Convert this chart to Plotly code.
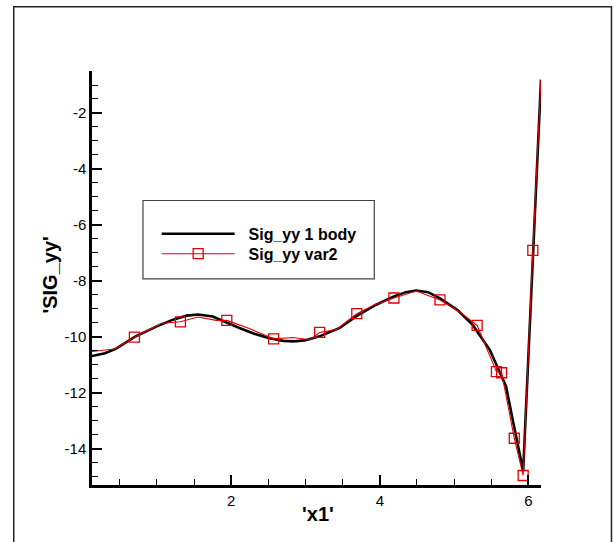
import plotly.graph_objects as go

# Sig_yy along x1, single-body reference solution
body_x = [0.125, 0.30, 0.45, 0.70, 0.99, 1.20, 1.40, 1.55, 1.75, 1.94, 2.11, 2.30,
          2.50, 2.70, 2.85, 3.00, 3.19, 3.46, 3.69, 3.95, 4.19, 4.35, 4.49, 4.65,
          4.81, 5.05, 5.25, 5.48, 5.62, 5.70, 5.80, 5.93, 6.17]
body_y = [-10.68, -10.58, -10.42, -10.00, -9.63, -9.40, -9.24, -9.20, -9.27, -9.50,
          -9.68, -9.88, -10.04, -10.14, -10.16, -10.12, -9.98, -9.68, -9.25, -8.85,
          -8.55, -8.40, -8.34, -8.40, -8.62, -9.05, -9.57, -10.46, -11.30, -11.77,
          -13.10, -14.78, -0.81]

# Sig_yy along x1, var2 solution (symbols drawn on flagged samples)
var2_x = [0.125, 0.43, 0.696, 1.06, 1.315, 1.55, 1.80, 1.94, 2.25, 2.57, 2.83, 3.06,
          3.19, 3.41, 3.69, 3.93, 4.19, 4.49, 4.81, 5.07, 5.31, 5.57, 5.64, 5.81,
          5.93, 6.06, 6.17]
var2_y = [-10.52, -10.43, -10.01, -9.51, -9.46, -9.29, -9.41, -9.41, -9.71, -10.07,
          -10.02, -10.10, -9.84, -9.74, -9.17, -8.85, -8.61, -8.36, -8.68, -9.10,
          -9.59, -11.24, -11.28, -13.62, -14.95, -6.91, -0.81]
var2_symbol = [0, 0, 1, 0, 1, 0, 0, 1, 0, 1, 0, 0, 1, 0, 1, 0, 1, 0, 1, 0, 1, 1, 1, 1,
               1, 1, 0]

series_names = ["Sig_yy 1 body", "Sig_yy var2"]
x_title = "'x1'"
y_title = "'SIG_yy'"

# axis tick positions and their labels (plain hyphen minus)
x_tickvals = [2, 4, 6]
x_ticktext = ["2", "4", "6"]
y_tickvals = [-14, -12, -10, -8, -6, -4, -2]
y_ticktext = ["-14", "-12", "-10", "-8", "-6", "-4", "-2"]

RED = "#e00000"
FONT = "Arial, Liberation Sans, sans-serif"
GAP = "\u00a0\u00a0"  # spacing between legend line and its label

sym_x = [x for x, f in zip(var2_x, var2_symbol) if f]
sym_y = [y for y, f in zip(var2_y, var2_symbol) if f]

fig = go.Figure()
fig.add_trace(go.Scatter(x=body_x, y=body_y, mode="lines", name=GAP + series_names[0],
                         line=dict(color="black", width=2.6), legend="legend"))
fig.add_trace(go.Scatter(x=var2_x, y=var2_y, mode="lines", showlegend=False,
                         line=dict(color=RED, width=1.1), hoverinfo="skip"))
fig.add_trace(go.Scatter(x=sym_x, y=sym_y, mode="markers", showlegend=False,
                         marker=dict(symbol="square-open", size=10, color=RED,
                                     line=dict(width=1.3, color=RED))))
# legend entry combining the red line and its symbol
fig.add_trace(go.Scatter(x=[None], y=[None], mode="lines+markers",
                         name=GAP + series_names[1], legend="legend2",
                         line=dict(color=RED, width=1.1),
                         marker=dict(symbol="square-open", size=10, color=RED,
                                     line=dict(width=1.3, color=RED))))

axis_common = dict(
    showline=True, linecolor="black", linewidth=2.5, mirror=False,
    showgrid=False, zeroline=False,
    ticks="inside", ticklen=10, tickwidth=2, tickcolor="black",
    tickfont=dict(family=FONT, size=15, color="black"),
)
minor_ticks = dict(dtick=0.5, tick0=0, ticklen=6, tickwidth=1.2, tickcolor="black",
                   ticks="inside")

fig.update_xaxes(range=[0.125, 6.17], tickmode="array", tickvals=x_tickvals,
                 ticktext=x_ticktext, minor=minor_ticks, **axis_common)
fig.update_yaxes(range=[-15.29, -0.5], tickmode="array", tickvals=y_tickvals,
                 ticktext=y_ticktext, minor=minor_ticks, **axis_common)

W, H = 614, 542
L, R, T, B = 92.3, 72.5, 71.3, 57
pw, ph = W - L - R, H - T - B


def px(xp):
    return (xp - L) / pw


def py(yp):
    return (H - B - yp) / ph


legend_style = dict(xanchor="left", yanchor="top", bgcolor="rgba(0,0,0,0)",
                    borderwidth=0, itemwidth=73,
                    font=dict(family=FONT, size=16, color="black", weight="bold"))

fig.update_layout(
    width=W, height=H,
    margin=dict(l=L, r=R, t=T, b=B, pad=0),
    paper_bgcolor="white", plot_bgcolor="white",
    showlegend=True,
    legend=dict(x=px(157), y=py(217), **legend_style),
    legend2=dict(x=px(157), y=py(237), **legend_style),
    shapes=[
        # outer frame
        dict(type="rect", xref="paper", yref="paper",
             x0=px(14), x1=px(612), y0=py(580), y1=py(7),
             line=dict(color="#222222", width=1.5), fillcolor="rgba(0,0,0,0)"),
        # legend box
        dict(type="rect", xref="paper", yref="paper",
             x0=px(143.3), x1=px(374.7), y0=py(279), y1=py(200.7),
             line=dict(color="#444444", width=1.2), fillcolor="rgba(0,0,0,0)"),
    ],
    annotations=[
        dict(text=x_title, xref="paper", yref="paper", x=px(318.5), y=py(514),
             xanchor="center", yanchor="middle", showarrow=False,
             font=dict(family=FONT, size=20, color="black", weight="bold")),
        dict(text=y_title, xref="paper", yref="paper", x=px(50), y=py(275),
             xanchor="center", yanchor="middle", showarrow=False, textangle=-90,
             font=dict(family=FONT, size=20, color="black", weight="bold")),
    ],
)

fig.write_html("out.html")
